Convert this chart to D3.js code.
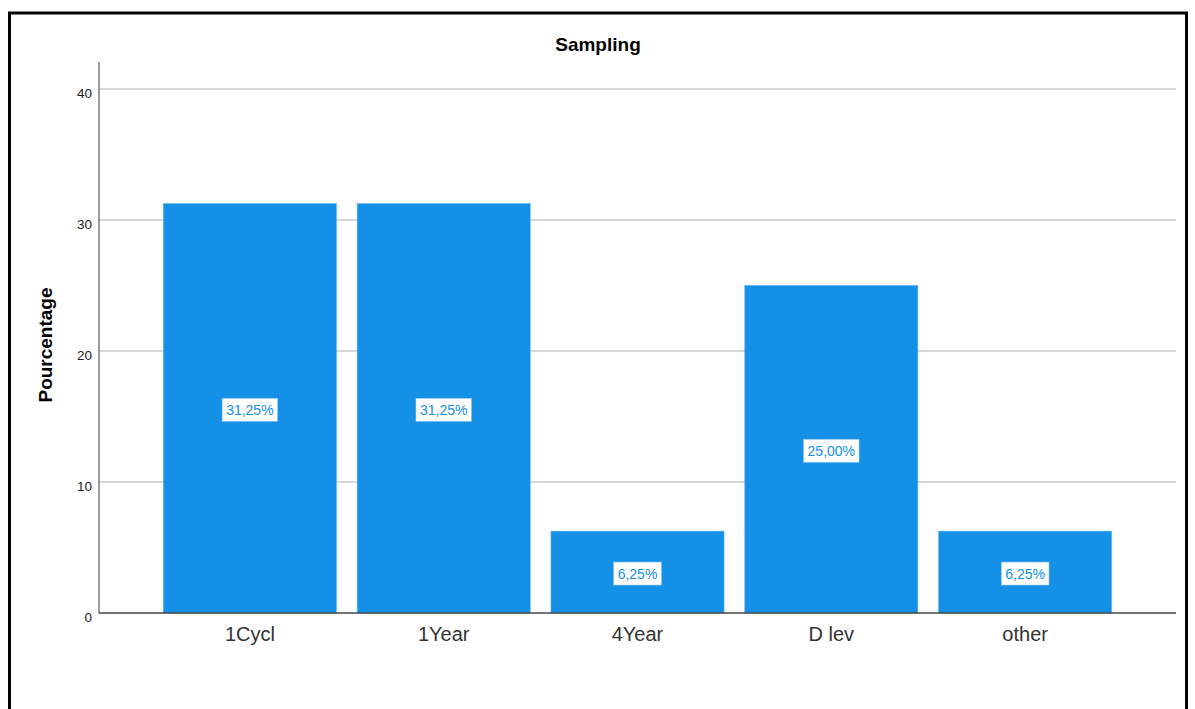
<!DOCTYPE html>
<html><head><meta charset="utf-8">
<script src="https://cdn.jsdelivr.net/npm/d3@7"></script>
<style>
html,body{margin:0;padding:0;background:#fff;}
svg{display:block;font-family:"Liberation Sans",Arial,sans-serif;}
</style></head>
<body><svg id="chart" width="1195" height="709"></svg>
<script>
const categories = ["1Cycl","1Year","4Year","D lev","other"];
const values = [31.25, 31.25, 6.25, 25.00, 6.25];
const yTicks = [0,10,20,30,40];
const title = "Sampling";
const yLabel = "Pourcentage";

const svg = d3.select("#chart");
// outer frame
svg.append("rect").attr("x",9.5).attr("y",13).attr("width",1177).attr("height",720)
  .attr("fill","none").attr("stroke","#000").attr("stroke-width",3);

const pLeft=99, pRight=1176, pTop=62, pBottom=613;
const x = d3.scaleBand().domain(categories).range([pLeft,pRight]).paddingInner(0.107).paddingOuter(0.332);
const y = d3.scaleLinear().domain([0,42.06]).range([pBottom,pTop]);

// gridlines
svg.append("g").selectAll("line").data(yTicks.filter(t=>t>0)).join("line")
  .attr("x1",pLeft).attr("x2",pRight).attr("y1",d=>y(d)).attr("y2",d=>y(d))
  .attr("stroke","#c8c8c8").attr("stroke-width",1.5);

// bars
svg.append("g").selectAll("rect").data(values).join("rect")
  .attr("x",(d,i)=>x(categories[i])).attr("width",x.bandwidth())
  .attr("y",d=>y(d)).attr("height",d=>pBottom-y(d))
  .attr("fill","#1490e6").attr("stroke","#5fb2ee").attr("stroke-width",0.6);

// y axis
const yAxis = d3.axisLeft(y).tickValues(yTicks).tickSize(6).tickFormat(d3.format("d"));
const gy = svg.append("g").attr("transform",`translate(${pLeft},0)`).call(yAxis);
gy.select(".domain").attr("stroke","#666").attr("stroke-width",1.3).attr("d",`M0,${pTop}V${pBottom}`);
gy.selectAll(".tick line").remove();
gy.selectAll(".tick text").attr("x",-7).attr("dy","0.62em").attr("font-size",13.5).attr("fill","#222")
  .attr("font-family","Liberation Sans, Arial, sans-serif");

// x axis
const xAxis = d3.axisBottom(x).tickSize(0);
const gx = svg.append("g").attr("transform",`translate(0,${pBottom})`).call(xAxis);
gx.select(".domain").attr("stroke","#444").attr("stroke-width",1.3).attr("d",`M${pLeft},0H${pRight}`);
gx.selectAll(".tick text").attr("y",14).attr("font-size",20).attr("fill","#333")
  .attr("font-family","Liberation Sans, Arial, sans-serif");

// value labels
const fmt = v => v.toFixed(2).replace(".",",")+"%";
const lg = svg.append("g");
values.forEach((v,i)=>{
  const cx = x(categories[i])+x.bandwidth()/2;
  const cy = y(v/2)+1.5;
  const g = lg.append("g");
  const t = g.append("text").attr("x",cx).attr("y",cy).attr("text-anchor","middle")
    .attr("dominant-baseline","central").attr("font-size",14).attr("fill","#1490e6").text(fmt(v));
  const bb = t.node().getBBox();
  g.insert("rect","text").attr("x",bb.x-4).attr("y",cy-11.5).attr("width",bb.width+8).attr("height",23)
    .attr("fill","#fff").attr("stroke","#8cc6f2").attr("stroke-width",0.6);
});

// title
svg.append("text").attr("x",598).attr("y",51).attr("text-anchor","middle")
  .attr("font-size",19).attr("font-weight","bold").attr("fill","#000").text(title);
// y label
svg.append("text").attr("transform",`translate(52,345) rotate(-90)`).attr("text-anchor","middle")
  .attr("font-size",19).attr("font-weight","bold").attr("fill","#000").text(yLabel);
</script></body></html>
